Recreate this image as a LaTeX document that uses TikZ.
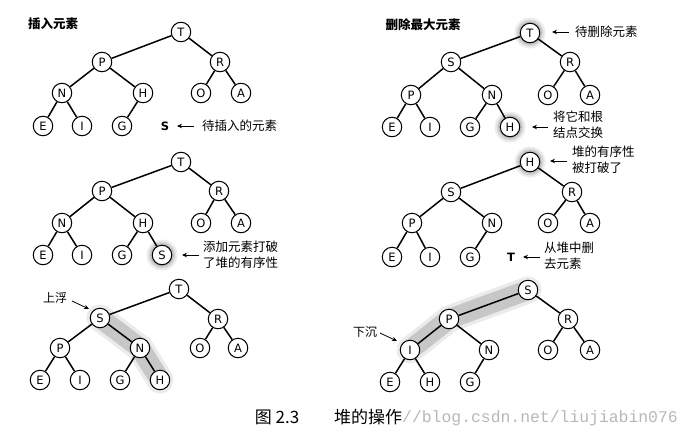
\documentclass[tikz,border=0pt]{standalone}
\usepackage{fontspec}
\setmainfont{DejaVu Sans}
\newfontfamily\cjk{Noto Sans CJK SC}
\newfontfamily\wmfont{Liberation Mono}
\usetikzlibrary{arrows.meta,backgrounds}
\tikzset{
  hn/.style={circle,draw,line width=1pt,fill=white,minimum size=19.5pt,inner sep=0pt,
    font=\fontsize{11.5}{11.5}\selectfont},
  edge/.style={line width=1.5pt},
  freeletter/.style={inner sep=0pt,font=\bfseries\fontsize{11.5}{11.5}\selectfont},
  lbl/.style={font=\cjk\fontsize{12.5}{16}\selectfont,align=left,inner sep=0pt,anchor=west},
  ptr/.style={-{Stealth[length=5pt,width=4.5pt]},line width=0.8pt},
  ttl/.style={font=\cjk\bfseries\fontsize{12.5}{15}\selectfont,inner sep=0pt},
  captxt/.style={font=\cjk\fontsize{17}{17}\selectfont,inner sep=0pt},
  wmark/.style={font=\wmfont\fontsize{16.4}{16.4}\selectfont,text=black!28,inner sep=0pt},
  bandouter/.style={line width=27pt,line cap=round,line join=round,black,opacity=0.08},
  bandinner/.style={line width=20pt,line cap=round,line join=round,black,opacity=0.15},
}
\newcommand\halo[1]{%
  \fill[black,opacity=0.07] (#1) circle (15.5pt);
  \fill[black,opacity=0.09] (#1) circle (13.5pt);
  \fill[black,opacity=0.11] (#1) circle (11.8pt);}
\begin{document}
\begin{tikzpicture}[x=1pt,y=-1pt]
\useasboundingbox (0,0) rectangle (690,434);

% ---------- titles ----------
\node[ttl] (t1) at (53,24) {插入元素};
\node[ttl] (t2) at (423,25) {删除最大元素};

% ---------- panel a (top left) ----------
\node[hn] (aT) at (181,32) {T};
\node[hn] (aP) at (102,62) {P};
\node[hn] (aR) at (220,62) {R};
\node[hn] (aN) at (62,93) {N};
\node[hn] (aH) at (143,93) {H};
\node[hn] (aO) at (201,93) {O};
\node[hn] (aA) at (241,93) {A};
\node[hn] (aE) at (43,126) {E};
\node[hn] (aI) at (82,126) {I};
\node[hn] (aG) at (122,126) {G};
\foreach \u/\v in {aT/aP,aT/aR,aP/aN,aP/aH,aR/aO,aR/aA,aN/aE,aN/aI,aH/aG}
  \draw[edge] (\u) -- (\v);
\node[freeletter] (aS) at (165,126) {S};
\coordinate (aArS) at (194,126);
\coordinate (aArE) at (177,126);
\draw[ptr] (aArS) -- (aArE);
\node[lbl] (aL) at (202,126) {待插入的元素};

% ---------- panel b (top right) ----------
\node[hn] (bT) at (530,33) {T};
\node[hn] (bS) at (451,62) {S};
\node[hn] (bR) at (570,62) {R};
\node[hn] (bP) at (411,95) {P};
\node[hn] (bN) at (492,95) {N};
\node[hn] (bO) at (548,95) {O};
\node[hn] (bA) at (590,95) {A};
\node[hn] (bE) at (392,127) {E};
\node[hn] (bI) at (430,127) {I};
\node[hn] (bG) at (470,127) {G};
\node[hn] (bH) at (510,127) {H};
\foreach \u/\v in {bT/bS,bT/bR,bS/bP,bS/bN,bR/bO,bR/bA,bP/bE,bP/bI,bN/bG,bN/bH}
  \draw[edge] (\u) -- (\v);
\coordinate (bArTs) at (569,32);
\coordinate (bArTe) at (552,32);
\draw[ptr] (bArTs) -- (bArTe);
\node[lbl] (bLT) at (575,32) {待删除元素};
\coordinate (bArHs) at (548,127);
\coordinate (bArHe) at (532,127);
\draw[ptr] (bArHs) -- (bArHe);
\node[lbl] (bLH) at (553,125) {将它和根\\结点交换};

% ---------- panel c (middle left) ----------
\node[hn] (cT) at (181,162) {T};
\node[hn] (cP) at (102,191) {P};
\node[hn] (cR) at (219,191) {R};
\node[hn] (cN) at (62,223) {N};
\node[hn] (cH) at (143,223) {H};
\node[hn] (cO) at (201,223) {O};
\node[hn] (cA) at (241,223) {A};
\node[hn] (cE) at (43,255) {E};
\node[hn] (cI) at (82,255) {I};
\node[hn] (cG) at (122,255) {G};
\node[hn] (cS) at (162,255) {S};
\foreach \u/\v in {cT/cP,cT/cR,cP/cN,cP/cH,cR/cO,cR/cA,cN/cE,cN/cI,cH/cG,cH/cS}
  \draw[edge] (\u) -- (\v);
\coordinate (cArs) at (199,255);
\coordinate (cAre) at (182,255);
\draw[ptr] (cArs) -- (cAre);
\node[lbl] (cL) at (203,255) {添加元素打破\\了堆的有序性};

% ---------- panel d (middle right) ----------
\node[hn] (dH) at (530,162) {H};
\node[hn] (dS) at (451,192) {S};
\node[hn] (dR) at (572,192) {R};
\node[hn] (dP) at (412,223) {P};
\node[hn] (dN) at (492,223) {N};
\node[hn] (dO) at (548,223) {O};
\node[hn] (dA) at (590,223) {A};
\node[hn] (dE) at (392,257) {E};
\node[hn] (dI) at (430,257) {I};
\node[hn] (dG) at (470,257) {G};
\foreach \u/\v in {dH/dS,dH/dR,dS/dP,dS/dN,dR/dO,dR/dA,dP/dE,dP/dI,dN/dG}
  \draw[edge] (\u) -- (\v);
\node[freeletter] (dT) at (511,257) {T};
\coordinate (dArHs) at (567,161);
\coordinate (dArHe) at (550,161);
\draw[ptr] (dArHs) -- (dArHe);
\node[lbl] (dLH) at (572,160) {堆的有序性\\被打破了};
\coordinate (dArTs) at (540,257);
\coordinate (dArTe) at (523,257);
\draw[ptr] (dArTs) -- (dArTe);
\node[lbl] (dLT) at (544,256) {从堆中删\\去元素};

% ---------- panel e (bottom left) ----------
\node[hn] (eT) at (179,289) {T};
\node[hn] (eS) at (100,318) {S};
\node[hn] (eR) at (218,319) {R};
\node[hn] (eP) at (60,348) {P};
\node[hn] (eN) at (140,348) {N};
\node[hn] (eO) at (200,348) {O};
\node[hn] (eA) at (238,348) {A};
\node[hn] (eE) at (40,380) {E};
\node[hn] (eI) at (80,380) {I};
\node[hn] (eG) at (120,380) {G};
\node[hn] (eH) at (160,380) {H};
\foreach \u/\v in {eT/eS,eT/eR,eS/eP,eS/eN,eR/eO,eR/eA,eP/eE,eP/eI,eN/eG,eN/eH}
  \draw[edge] (\u) -- (\v);
\node[font=\cjk\fontsize{12}{12}\selectfont,inner sep=0pt] (eL) at (55,298) {上浮};
\coordinate (eArs) at (72,301);
\coordinate (eAre) at (89,309);
\draw[ptr] (eArs) -- (eAre);

% ---------- panel f (bottom right) ----------
\node[hn] (fS) at (528,290) {S};
\node[hn] (fP) at (449,319) {P};
\node[hn] (fR) at (568,319) {R};
\node[hn] (fI) at (410,350) {I};
\node[hn] (fN) at (489,350) {N};
\node[hn] (fO) at (548,350) {O};
\node[hn] (fA) at (590,350) {A};
\node[hn] (fE) at (390,382) {E};
\node[hn] (fH) at (430,382) {H};
\node[hn] (fG) at (470,382) {G};
\foreach \u/\v in {fS/fP,fS/fR,fP/fI,fP/fN,fR/fO,fR/fA,fI/fE,fI/fH,fN/fG}
  \draw[edge] (\u) -- (\v);
\node[font=\cjk\fontsize{12}{12}\selectfont,inner sep=0pt] (fL) at (365,332) {下沉};
\coordinate (fArs) at (380,333);
\coordinate (fAre) at (397,341);
\draw[ptr] (fArs) -- (fAre);

% ---------- caption ----------
\node[captxt] (cap1) at (277,417) {图 2.3};
\node[captxt] (cap2) at (368,417) {堆的操作};
\node[wmark] (wm) at (540,418) {//blog.csdn.net/liujiabin076};

% ---------- highlights ----------
\begin{pgfonlayer}{background}
  \fill[white] (0,0) rectangle (690,434);
  \halo{bT}
  \halo{bH}
  \halo{cS}
  \halo{dH}
  \draw[bandouter] (eS.center) -- (eN.center) -- (eH.center);
  \draw[bandinner] (eS.center) -- (eN.center) -- (eH.center);
  \draw[bandouter] (fS.center) -- (fP.center) -- (fI.center);
  \draw[bandinner] (fS.center) -- (fP.center) -- (fI.center);
\end{pgfonlayer}
\end{tikzpicture}
\end{document}
